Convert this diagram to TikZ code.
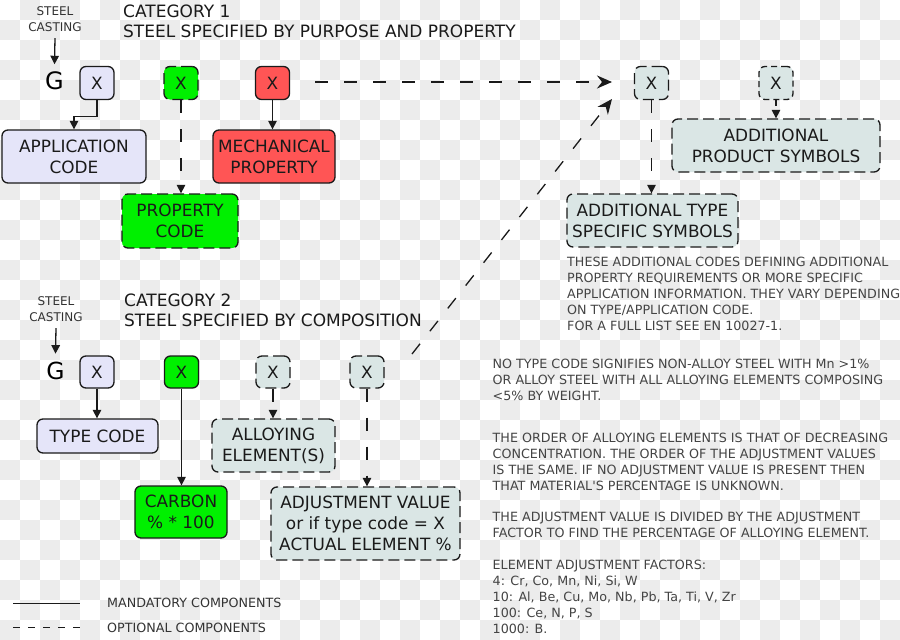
\documentclass[tikz,border=0pt]{standalone}
\usepackage{fontspec}
\setmainfont{DejaVu Sans}
\newfontfamily\apf{DejaVu Sans}[Ligatures=TeXOff]
\usetikzlibrary{arrows.meta}
\definecolor{lavc}{HTML}{E5E5F9}
\definecolor{grnc}{HTML}{00F000}
\definecolor{redc}{HTML}{FF5555}
\definecolor{litc}{HTML}{DAE6E5}
\definecolor{linec}{HTML}{1A1A1A}
\definecolor{chkc}{HTML}{ECECEC}
\definecolor{notec}{HTML}{444444}
\definecolor{legc}{HTML}{333333}
\newcommand\bxf{\fontsize{16.9}{21}\selectfont}
\newcommand\ttlf{\fontsize{17}{20}\selectfont}
\newcommand\smf{\fontsize{12}{16}\selectfont}
\newcommand\notef{\fontsize{12.7}{16}\selectfont}
\newcommand\gfnt{\fontsize{24}{28}\selectfont}
\begin{document}
\begin{tikzpicture}[x=1pt,y=-1pt,
  bx/.style={rounded corners=6pt, draw=linec, line width=1.3pt, align=center, inner sep=0pt, font=\bxf, text=linec},
  xbox/.style={bx, minimum width=34pt, minimum height=33pt},
  flav/.style={fill=lavc}, fgrn/.style={fill=grnc}, fred/.style={fill=redc}, flit/.style={fill=litc},
  dbord/.style={dash pattern=on 11pt off 5pt},
  conn/.style={line width=1.3pt, draw=linec, -{Triangle[length=8.5pt,width=8.5pt]}},
  dconn/.style={conn, dash pattern=on 13pt off 16pt},
  sconn/.style={conn, dash pattern=on 6pt off 4pt},
  longarr/.style={line width=1.3pt, draw=linec, dash pattern=on 13pt off 16pt, -{Stealth[length=15pt,width=13pt,inset=5pt]}},
  ttl/.style={anchor=base west, inner sep=0pt, font=\ttlf, text=linec},
  sm/.style={anchor=base, inner sep=0pt, font=\smf, text=legc},
  gl/.style={anchor=base, inner sep=0pt, font=\gfnt, text=black},
  note/.style={anchor=north west, inner sep=0pt, align=left, font=\notef, text=notec},
]
\useasboundingbox (0,0) rectangle (900,640);
\begin{scope}
\clip (0,0) rectangle (900,640);
\fill[white] (0,0) rectangle (900,640);
\foreach \j in {0,...,31}{\foreach \i in {0,...,22}{\pgfmathtruncatemacro{\xx}{2*\i+mod(\j+1,2)}\fill[chkc] (\xx*20,\j*20) rectangle ++(20,20);}}
\end{scope}

% ---------- Category 1 ----------
\node[ttl] (t1a) at (123,17) {CATEGORY 1};
\node[ttl] (t1b) at (123,37) {STEEL SPECIFIED BY PURPOSE AND PROPERTY};
\node[sm] (sc1a) at (55,15.7) {STEEL};
\node[sm] (sc1b) at (55,31.7) {CASTING};
\node[gl] (g1) at (54.5,89.3) {G};
\draw[conn] ([yshift=-6pt]sc1b.south) -- ([yshift=7pt]g1.north);

\node[xbox,flav] (x1a) at (97,83) {X};
\node[xbox,fgrn,dbord] (x1b) at (181,83) {X};
\node[xbox,fred] (x1c) at (272.5,83) {X};
\node[bx,flav,minimum width=144pt,minimum height=53pt] (app) at (74,156.5) {APPLICATION\\CODE};
\node[bx,fred,minimum width=122pt,minimum height=53pt] (mech) at (274,156.5) {MECHANICAL\\PROPERTY};
\node[bx,fgrn,dbord,minimum width=116pt,minimum height=54pt] (prop) at (180,221) {PROPERTY\\CODE};

\draw[conn] (x1a.south) -- ++(0,16) -| (app.north);
\draw[conn] (x1c.south) -- (x1c.south |- mech.north);
\draw[dconn] (x1b.south) -- (x1b.south |- prop.north);

% ---------- Additional symbols ----------
\node[xbox,flit,dbord] (x3a) at (651.5,83) {X};
\node[xbox,flit,dash pattern=on 6pt off 4pt] (x3b) at (776,83) {X};
\node[bx,flit,dbord,minimum width=208pt,minimum height=53pt] (aps) at (776,145.5) {ADDITIONAL\\PRODUCT SYMBOLS};
\node[bx,flit,dbord,minimum width=171pt,minimum height=53pt] (ats) at (652.5,220.5) {ADDITIONAL TYPE\\SPECIFIC SYMBOLS};
\draw[dconn] (x3a.south) -- (x3a.south |- ats.north);
\draw[sconn] (x3b.south) -- (x3b.south |- aps.north);

\coordinate (la0) at (315,82);
\coordinate (la1) at (612,82);
\coordinate (lb0) at (412,354);
\coordinate (lb1) at (612,99);
\draw[longarr] (la0) -- (la1);
\draw[longarr] (lb0) -- (lb1);

\node[note] (n1) at (567,257) {THESE ADDITIONAL CODES DEFINING ADDITIONAL\\PROPERTY REQUIREMENTS OR MORE SPECIFIC\\APPLICATION INFORMATION. THEY VARY DEPENDING\\ON TYPE/APPLICATION CODE.\\FOR A FULL LIST SEE EN 10027-1.};

% ---------- Category 2 ----------
\node[ttl] (t2a) at (124,306) {CATEGORY 2};
\node[ttl] (t2b) at (124,326.7) {STEEL SPECIFIED BY COMPOSITION};
\node[sm] (sc2a) at (56,305.7) {STEEL};
\node[sm] (sc2b) at (56,321.7) {CASTING};
\node[gl,font=\fontsize{23.5}{28}\selectfont] (g2) at (55.5,379.3) {G};
\draw[conn] ([yshift=-6pt]sc2b.south) -- ([yshift=8pt]g2.north);

\node[xbox,flav,minimum height=32pt] (x2a) at (97,372) {X};
\node[xbox,fgrn,minimum height=32pt] (x2b) at (181.5,372) {X};
\node[xbox,flit,dbord,minimum height=32pt] (x2c) at (273,372) {X};
\node[xbox,flit,dbord,minimum height=32pt] (x2d) at (367,372) {X};
\node[bx,flav,minimum width=121pt,minimum height=34pt] (type) at (97.5,436) {TYPE CODE};
\node[bx,flit,dbord,minimum width=123pt,minimum height=53pt] (alloy) at (273.5,445.5) {ALLOYING\\ELEMENT(S)};
\node[bx,fgrn,minimum width=92pt,minimum height=52pt] (carb) at (181,512) {CARBON\\\% * 100};
\node[bx,flit,dbord,minimum width=189pt,minimum height=73pt] (adj) at (365.5,523.5) {ADJUSTMENT VALUE\\or if type code = X\\ACTUAL ELEMENT \%};

\draw[conn] (x2a.south) -- (x2a.south |- type.north);
\draw[conn] (x2b.south) -- (x2b.south |- carb.north);
\draw[dconn] (x2c.south) -- (x2c.south |- alloy.north);
\draw[dconn] (x2d.south) -- (x2d.south |- adj.north);

\node[note] (n2) at (492.5,359.3) {NO TYPE CODE SIGNIFIES NON-ALLOY STEEL WITH Mn >1\%\\OR ALLOY STEEL WITH ALL ALLOYING ELEMENTS COMPOSING\\<5\% BY WEIGHT.};
\node[note] (n3) at (492.5,432.5) {THE ORDER OF ALLOYING ELEMENTS IS THAT OF DECREASING\\CONCENTRATION. THE ORDER OF THE ADJUSTMENT VALUES\\IS THE SAME. IF NO ADJUSTMENT VALUE IS PRESENT THEN\\THAT MATERIAL{\apf '}S PERCENTAGE IS UNKNOWN.};
\node[note] (n4) at (492.5,511.8) {THE ADJUSTMENT VALUE IS DIVIDED BY THE ADJUSTMENT\\FACTOR TO FIND THE PERCENTAGE OF ALLOYING ELEMENT.};
\node[note] (n5) at (492.5,559.8) {ELEMENT ADJUSTMENT FACTORS:\\4: Cr, Co, Mn, Ni, Si, W\\10: Al, Be, Cu, Mo, Nb, Pb, Ta, Ti, V, Zr\\100: Ce, N, P, S\\1000: B.};

% ---------- Legend ----------
\coordinate (lg1a) at (13,603.5);
\coordinate (lg1b) at (80,603.5);
\coordinate (lg2a) at (13,627.5);
\coordinate (lg2b) at (80,627.5);
\draw[line width=1.3pt, draw=linec] (lg1a) -- (lg1b);
\draw[line width=1.3pt, draw=linec, dash pattern=on 7.3pt off 7.7pt] (lg2a) -- (lg2b);
\node[anchor=base west, inner sep=0pt, font=\fontsize{12.7}{16}\selectfont, text=legc] (lgt1) at (107,607.7) {MANDATORY COMPONENTS};
\node[anchor=base west, inner sep=0pt, font=\fontsize{12.7}{16}\selectfont, text=legc] (lgt2) at (107,632) {OPTIONAL COMPONENTS};
\end{tikzpicture}
\end{document}
